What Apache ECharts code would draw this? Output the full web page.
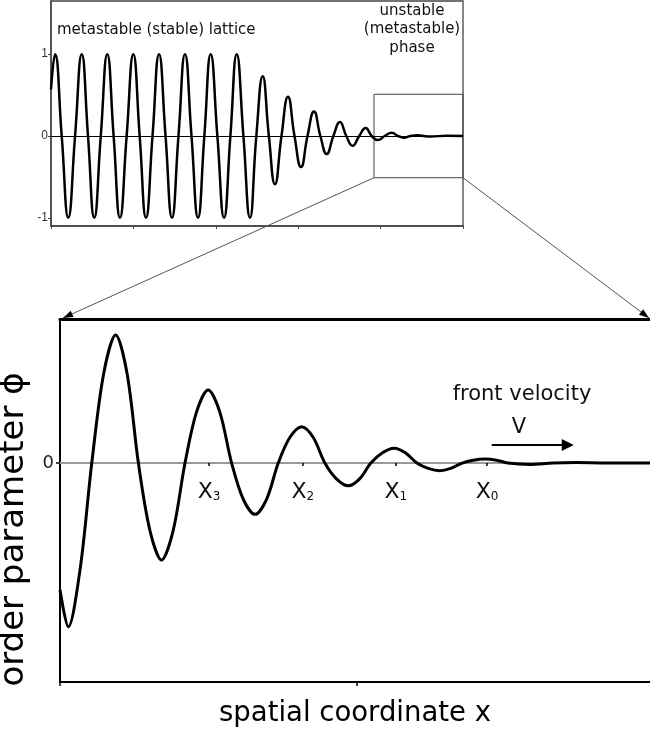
<!DOCTYPE html>
<html><head><meta charset="utf-8">
<script src="https://cdn.jsdelivr.net/npm/echarts@6/dist/echarts.min.js"></script>
<style>html,body{margin:0;padding:0;background:#fff}#c{width:650px;height:733px}</style>
</head><body><div id="c"></div>
<script>
// ---- top panel: lattice order parameter (peaks, zero crossings, troughs)
const latticeX = [0, 0.49, 1.30, 2.10, 2.92, 3.73, 4.49, 5.25, 6.04, 6.83, 7.60, 8.37, 9.18, 9.99, 10.76, 11.53, 12.32, 13.11, 13.90, 14.68, 15.47, 16.26, 17.05, 17.84, 18.61, 19.38, 20.19, 21.00, 21.77, 22.54, 23.35, 24.15, 24.92, 25.69, 26.44, 27.18, 27.97, 28.76, 29.55, 30.34, 31.13, 31.92, 32.69, 33.46, 34.27, 35.07, 35.84, 36.61, 37.40, 38.19, 38.92, 39.65, 40.50, 41.35, 42.10, 42.84, 43.60, 44.40, 45.2, 46.0, 48.0, 50.0];
const latticeY = [0.57, 1, 0, -1, 0, 1, 0, -1, 0, 1, 0, -1, 0, 1, 0, -1, 0, 1, 0, -1, 0, 1, 0, -1, 0, 1, 0, -1, 0, 1, 0, -1, 0, 0.73, 0, -0.59, 0, 0.48, 0, -0.38, 0, 0.30, 0, -0.22, 0, 0.17, 0, -0.12, 0, 0.097, 0, -0.05, 0, 0.04, 0, -0.02, 0, 0.01, 0, -0.005, 0.002, 0];
const topYTicks = [-1, 0, 1];
const zoomBoxX = [39.2, 50];
const zoomBoxY = [-0.51, 0.51];

// ---- bottom panel: front profile
const frontX = [0, 0.28, 0.675, 1.07, 1.47, 1.875, 2.26, 2.64, 3.03, 3.42, 3.81, 4.21, 4.6, 4.99, 5.38, 5.78, 6.17, 6.57, 6.96, 7.35, 7.74, 8.14, 8.53, 8.92, 9.31, 9.71, 10.09, 10.47, 10.86, 11.25, 11.63, 12.02, 12.4, 12.79, 13.16, 13.54, 13.92, 14.31, 14.7, 15.08, 15.82, 16.6, 17.37, 18.4, 19.87];
const frontY = [-0.88, -1.137, -0.74, 0, 0.62, 0.889, 0.62, 0, -0.47, -0.674, -0.47, 0, 0.355, 0.507, 0.355, 0, -0.25, -0.356, -0.25, 0, 0.177, 0.252, 0.177, 0, -0.11, -0.158, -0.11, 0, 0.071, 0.102, 0.071, 0, -0.037, -0.053, -0.037, 0, 0.02, 0.028, 0.02, 0, -0.01, 0, 0.003, 0, 0];
const frontTickValues = [5.02, 8.18, 11.31, 14.38];
const frontTickSubs = ['3', '2', '1', '0'];
const bottomXTicks = [0, 10];
const bottomYTicks = [0];
const velocityArrowX = [14.54, 17.1];
const velocityArrowY = 0.125;

const chart = echarts.init(document.getElementById('c'));
const latticeData = latticeX.map((x, i) => [x, latticeY[i]]);
const frontData = frontX.map((x, i) => [x, frontY[i]]);
const FONT = 'DejaVu Sans';

const G2 = {left: 60, top: 319, width: 590, height: 363};
const Y2 = {min: -1.52, max: 1};
const zeroOffset = -G2.height * (0 - Y2.min) / (Y2.max - Y2.min);

const option = {
  animation: false,
  backgroundColor: '#fff',
  grid: [
    {left: 51, top: 1, width: 412, height: 225, show: true, borderColor: '#444', borderWidth: 1.3, backgroundColor: 'transparent', containLabel: false, outerBoundsMode: 'none'},
    {left: G2.left, top: G2.top, width: G2.width, height: G2.height, containLabel: false, outerBoundsMode: 'none'}
  ],
  xAxis: [
    {gridIndex: 0, type: 'value', min: 0, max: 50, interval: 10,
     axisLine: {onZero: false, lineStyle: {color: '#444', width: 1.5}},
     axisTick: {show: true, length: 3, lineStyle: {color: '#444'}},
     axisLabel: {show: false}, splitLine: {show: false}},
    {gridIndex: 1, type: 'value', min: 0, max: 19.87, position: 'bottom',
     axisLine: {onZero: false, lineStyle: {color: '#000', width: 2}},
     axisTick: {show: true, customValues: bottomXTicks, length: 4, lineStyle: {color: '#000', width: 1.5}},
     axisLabel: {show: false}, splitLine: {show: false},
     name: 'spatial coordinate x', nameLocation: 'middle', nameGap: 18,
     nameTextStyle: {fontFamily: FONT, fontSize: 27.5, color: '#000'}},
    {gridIndex: 1, type: 'value', min: 0, max: 19.87, position: 'bottom', offset: zeroOffset,
     axisLine: {onZero: false, lineStyle: {color: '#999', width: 2}},
     axisTick: {show: true, customValues: frontTickValues, length: 3, lineStyle: {color: '#000', width: 1.5}},
     axisLabel: {show: true, customValues: frontTickValues, margin: 18,
       formatter: function (v) {
         let i = 0, best = 1e9;
         frontTickValues.forEach((t, k) => { if (Math.abs(t - v) < best) { best = Math.abs(t - v); i = k; } });
         return '{x|X}{s|' + frontTickSubs[i] + '}';
       },
       rich: {
         x: {fontFamily: FONT, fontSize: 22, color: '#111', verticalAlign: 'bottom'},
         s: {fontFamily: FONT, fontSize: 12, color: '#111', verticalAlign: 'bottom'}
       }},
     splitLine: {show: false}},
    {gridIndex: 1, type: 'value', min: 0, max: 19.87, position: 'top',
     axisLine: {onZero: false, lineStyle: {color: '#000', width: 3}},
     axisTick: {show: false}, axisLabel: {show: false}, splitLine: {show: false}}
  ],
  yAxis: [
    {gridIndex: 0, type: 'value', min: -1.1, max: 1.65,
     axisLine: {onZero: false, lineStyle: {color: '#444', width: 1.5}},
     axisTick: {show: true, customValues: topYTicks, length: 3, lineStyle: {color: '#444'}},
     axisLabel: {show: true, customValues: topYTicks, margin: 3, fontFamily: 'Liberation Sans', fontSize: 12, color: '#333'},
     splitLine: {show: false}},
    {gridIndex: 1, type: 'value', min: Y2.min, max: Y2.max,
     axisLine: {onZero: false, lineStyle: {color: '#000', width: 2}},
     axisTick: {show: true, customValues: bottomYTicks, length: 4, lineStyle: {color: '#000', width: 1.5}},
     axisLabel: {show: true, customValues: bottomYTicks, margin: 6, fontFamily: FONT, fontSize: 18, color: '#222'},
     splitLine: {show: false},
     name: 'order parameter \u03d5', nameLocation: 'middle', nameGap: 16,
     nameTextStyle: {fontFamily: FONT, fontSize: 34, color: '#000', padding: [0, 58, 0, 0]}}
  ],
  series: [
    {type: 'line', xAxisIndex: 0, yAxisIndex: 0, data: latticeData, smooth: 0.5, showSymbol: false,
     lineStyle: {color: '#000', width: 2.5}, z: 3,
     markLine: {silent: true, symbol: 'none', label: {show: false},
       lineStyle: {color: '#000', width: 1, type: 'solid'}, data: [{yAxis: 0}]},
     markArea: {silent: true, label: {show: false},
       itemStyle: {color: 'rgba(0,0,0,0)', borderColor: '#444', borderWidth: 1},
       data: [[{coord: [zoomBoxX[0], zoomBoxY[1]]}, {coord: [zoomBoxX[1], zoomBoxY[0]]}]]}},
    {type: 'line', xAxisIndex: 1, yAxisIndex: 1, data: frontData, smooth: 0.32, showSymbol: false,
     lineStyle: {color: '#000', width: 3}, z: 3,
     markLine: {silent: true, symbol: ['none', 'triangle'], symbolSize: 12, label: {show: false},
       lineStyle: {color: '#000', width: 2, type: 'solid'},
       data: [[{coord: [velocityArrowX[0], velocityArrowY]}, {coord: [velocityArrowX[1], velocityArrowY]}]]}}
  ]
};
chart.setOption(option);

// connector lines from the zoom box to the lower panel
function arrowPoly(from, to, L, W) {
  const dx = to[0] - from[0], dy = to[1] - from[1];
  const len = Math.sqrt(dx * dx + dy * dy);
  const ux = dx / len, uy = dy / len, nx = -uy, ny = ux;
  return [[to[0], to[1]],
          [to[0] - ux * L + nx * W / 2, to[1] - uy * L + ny * W / 2],
          [to[0] - ux * L - nx * W / 2, to[1] - uy * L - ny * W / 2]];
}
const boxBL = chart.convertToPixel({xAxisIndex: 0, yAxisIndex: 0}, [zoomBoxX[0], zoomBoxY[0]]);
const boxBR = chart.convertToPixel({xAxisIndex: 0, yAxisIndex: 0}, [zoomBoxX[1], zoomBoxY[0]]);
const lowTL = chart.convertToPixel({xAxisIndex: 1, yAxisIndex: 1}, [0, Y2.max]);
const lowTR = chart.convertToPixel({xAxisIndex: 1, yAxisIndex: 1}, [19.87, Y2.max]);
lowTL[0] += 3; lowTR[0] -= 1; lowTL[1] -= 1; lowTR[1] -= 1;

chart.setOption({
  graphic: [
    {type: 'line', shape: {x1: boxBL[0], y1: boxBL[1], x2: lowTL[0], y2: lowTL[1]}, style: {stroke: '#555', lineWidth: 1}, z: 10},
    {type: 'line', shape: {x1: boxBR[0], y1: boxBR[1], x2: lowTR[0], y2: lowTR[1]}, style: {stroke: '#555', lineWidth: 1}, z: 10},
    {type: 'polygon', shape: {points: arrowPoly(boxBL, lowTL, 10, 7)}, style: {fill: '#000'}, z: 10},
    {type: 'polygon', shape: {points: arrowPoly(boxBR, lowTR, 10, 7)}, style: {fill: '#000'}, z: 10},
    {type: 'text', x: 57, y: 30, style: {text: 'metastable (stable) lattice', font: '15px "DejaVu Sans"', fill: '#111', align: 'left', verticalAlign: 'middle'}, z: 10},
    {type: 'text', x: 412, y: 29.5, style: {text: 'unstable\n(metastable)\nphase', font: '15px "DejaVu Sans"', lineHeight: 18.5, fill: '#111', align: 'center', verticalAlign: 'middle'}, z: 10},
    {type: 'text', x: 522, y: 395, style: {text: 'front velocity', font: '21px "DejaVu Sans"', fill: '#111', align: 'center', verticalAlign: 'middle'}, z: 10},
    {type: 'text', x: 519, y: 428, style: {text: 'V', font: '21px "DejaVu Sans"', fill: '#111', align: 'center', verticalAlign: 'middle'}, z: 10}
  ]
});
</script></body></html>
